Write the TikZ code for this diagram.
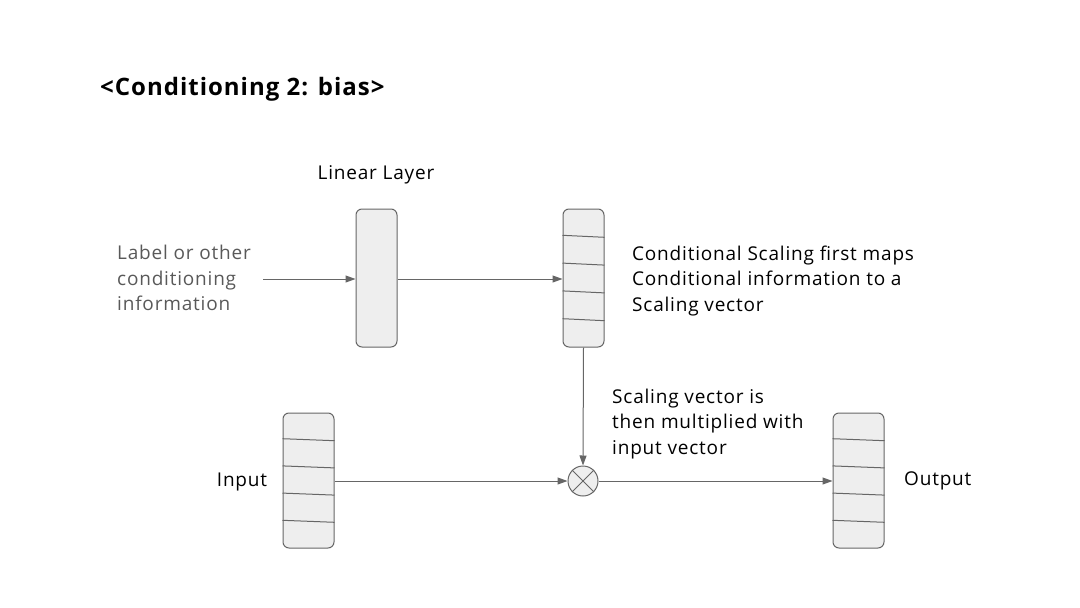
\documentclass[tikz,border=0pt]{standalone}
\usepackage{fontspec}
\setmainfont[LetterSpace=4.2]{Open Sans}
\usetikzlibrary{arrows.meta,calc}
\definecolor{strokegray}{HTML}{666666}
\definecolor{boxfill}{HTML}{EEEEEE}
\definecolor{labelgray}{HTML}{595959}
\newcommand{\cellsof}[1]{%
  \foreach \i in {1,2,3,4}{%
    \draw[strokegray, line width=1pt]
      ($(#1.north west)!\i/5!(#1.south west)+(0,-1)$) --
      ($(#1.north east)!\i/5!(#1.south east)+(0,1)$);
  }}
\begin{document}
\begin{tikzpicture}[x=1pt,y=-1pt,
  box/.style={draw=strokegray, fill=boxfill, rounded corners=6pt, line width=1pt,
    minimum width=41pt, minimum height=138pt, inner sep=0pt},
  widebox/.style={box, minimum width=51pt, minimum height=135pt},
  arr/.style={draw=strokegray, line width=1pt, -{Triangle[length=10pt,width=7pt]}},
  txt/.style={font=\fontsize{19}{25.5}\selectfont, align=left, inner sep=0pt},
  ttl/.style={font=\fontsize{24}{28}\selectfont\bfseries, inner sep=0pt},
  mult/.style={circle, draw=strokegray, fill=boxfill, line width=1pt, minimum size=30pt, inner sep=0pt},
]
\useasboundingbox (0,0) rectangle (1080,608);

\node[ttl, anchor=west] (title) at (100,89) {<Conditioning 2: bias>};

\node[box] (lin) at (376.5,278) {};
\node[box] (scale) at (583.5,278) {};
\cellsof{scale}
\node[widebox] (in) at (308.5,480.5) {};
\cellsof{in}
\node[widebox] (out) at (858.5,480.5) {};
\cellsof{out}
\node[mult] (x) at (583,481) {};
\draw[strokegray, line width=1pt] (x.north west) -- (x.south east) (x.north east) -- (x.south west);

\node[txt] (linlbl) at (376,175) {Linear Layer};
\node[txt, anchor=west, text=labelgray] (cond) at (117,278) {Label or other\\conditioning\\information};
\node[txt, anchor=west] (desc1) at (632,281) {Conditional Scaling first maps\\Conditional information to a\\Scaling vector};
\node[txt, anchor=west] (desc2) at (612,424) {Scaling vector is\\then multiplied with\\input vector};
\node[txt] (inlbl) at (242,482) {Input};
\node[txt, anchor=west] (outlbl) at (904,481) {Output};

\coordinate (condend) at (263,279);
\draw[arr] (condend) -- (lin.west |- condend);
\draw[arr] (lin.east |- condend) -- (scale.west |- condend);
\draw[arr] (scale.south) -- (x.north);
\draw[arr] (in.east |- x) -- (x.west);
\draw[arr] (x.east) -- (out.west |- x);
\end{tikzpicture}
\end{document}
